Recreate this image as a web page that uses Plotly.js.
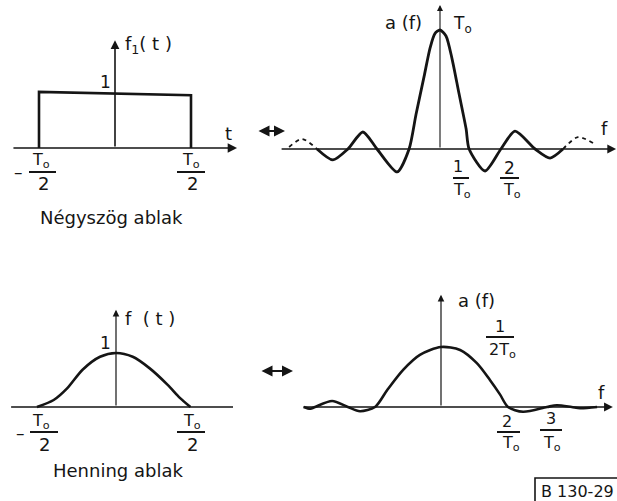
<!DOCTYPE html>
<html><head><meta charset="utf-8">
<script src="https://cdn.plot.ly/plotly-3.0.1.min.js"></script>
<style>html,body{margin:0;padding:0;background:#fff}#g{width:617px;height:501px}</style>
</head><body><div id="g"></div>
<script>
// ---- data ----
// top-left: rectangular window, t in units of T0
const rectT = [-0.5, -0.5, 0.5, 0.5];
const rectY = [0, 1.02, 0.96, 0];
// top-right: its spectrum, f in units of 1/T0, a in units of T0
const sincX = [-4.1,-3.57,-3.07,-2.57,-2.1,-1.43,-1.03,-0.8,-0.53,-0.33,-0.17,0,0.2,0.4,0.63,0.87,0.97,1.5,2.03,2.5,3.17,3.67,4.1];
const sincY = [0,-0.092,0,0.143,0,-0.193,0,0.29,0.61,0.85,0.97,1.0,0.95,0.76,0.47,0.17,0,-0.185,0,0.15,0,-0.076,0];
const sincDashLX = [-5.03,-4.6,-4.1];
const sincDashLY = [0.017,0.084,0];
const sincDashRX = [4.1,4.6,5.1];
const sincDashRY = [0,0.1,0.05];
// bottom-left: Hanning window
const hanT = [-0.52,-0.41,-0.32,-0.22,-0.105,0,0.11,0.22,0.34,0.42,0.49];
const hanY = [0,0.13,0.35,0.69,0.93,1,0.93,0.72,0.41,0.17,0];
// bottom-right: Hanning spectrum
const hsX = [-4.1,-3.9,-3.76,-3.25,-2.78,-2.42,-1.97,-1.61,-1.13,-0.63,0,0.57,1.07,1.46,1.76,2.0,2.45,3.16,3.46,3.9,4.15,4.66];
const hsY = [0,-0.03,0,0.1,0,-0.07,0,0.28,0.62,0.87,1.0,0.95,0.73,0.45,0.21,0,-0.08,0,0.03,0,-0.02,0];
// texts
const titleA = "Négyszög ablak";
const titleC = "Henning ablak";
const ylabA = "f<sub>1</sub>( t )";
const ylabC = "f  ( t )";
const ylabB = "a (f)";
const ylabD = "a (f)";
const tickNum = ["T<sub>o</sub>", "2"];
const sincTicks = ["1", "2"];
const hsTicks = ["2", "3"];
const figId = "B 130-29";

// ---- layout helpers ----
const W = 617, H = 501;
const ink = "#151515";
const FONT = "DejaVu Sans, sans-serif";
function panel(xd0, xd1, yd0, yd1, ox, sx, oy, sy) {
  return [
    {domain:[xd0/W, xd1/W], range:[(xd0-ox)/sx, (xd1-ox)/sx], visible:false, fixedrange:true},
    {domain:[1-yd1/H, 1-yd0/H], range:[(oy-yd1)/sy, (oy-yd0)/sy], visible:false, fixedrange:true}
  ];
}
const pA = panel(0, 260, 0, 250, 115, 152, 148, 55);
const pB = panel(260, 617, 0, 250, 440, 30, 149, 119);
const pC = panel(0, 260, 250, 501, 116, 152, 407, 54);
const pD = panel(260, 617, 250, 501, 441, 33.5, 407, 60);

function line(x, y, xa, ya, w, dash, sm) {
  return {x:x, y:y, xaxis:xa, yaxis:ya, mode:'lines', type:'scatter',
          line:{color:ink, width:w, shape:'spline', smoothing:sm||0.8, dash:dash||'solid'},
          hoverinfo:'skip', showlegend:false};
}
const traces = [
  {x:rectT, y:rectY, xaxis:'x', yaxis:'y', mode:'lines', type:'scatter',
   line:{color:ink, width:2.6}, hoverinfo:'skip', showlegend:false},
  line(sincX, sincY, 'x2', 'y2', 2.8, 'solid', 0.7),
  line(sincDashLX, sincDashLY, 'x2', 'y2', 1.8, '4px,4px'),
  line(sincDashRX, sincDashRY, 'x2', 'y2', 1.8, '4px,4px'),
  line(hanT, hanY, 'x3', 'y3', 2.6),
  line(hsX, hsY, 'x4', 'y4', 2.6)
];

function axArrow(xr, yr, x0, y0, x1, y1, w, head) {
  return {xref:xr, yref:yr, axref:xr, ayref:yr, x:x1, y:y1, ax:x0, ay:y0,
          text:'', showarrow:true, arrowhead: head===undefined?2:head, arrowsize:1.1,
          arrowwidth:w, arrowcolor:ink, standoff:0, startstandoff:0};
}
function txt(s, x, y, size) {
  return {xref:'paper', yref:'paper', x:x/W, y:1-y/H, text:s, showarrow:false,
          xanchor:'center', yanchor:'middle', font:{family:FONT, size:size||17, color:ink}};
}
const ann = [
  // axes
  axArrow('x','y', -0.678, 0, 0.803, 0, 1.7),
  axArrow('x','y', 0, 0, 0, 1.96, 1.6),
  axArrow('x2','y2', -5.33, 0, 5.87, 0, 1.6),
  axArrow('x2','y2', 0, 0, 0, 1.21, 1.1),
  axArrow('x3','y3', -0.70, 0, 0.77, 0, 1.6, 0),
  axArrow('x3','y3', 0, 0, 0, 1.8, 1.2),
  axArrow('x4','y4', -4.15, 0, 5.13, 0, 1.6),
  axArrow('x4','y4', 0, 0, 0, 1.87, 1.2),
  // double arrows between panels
  {xref:'paper', yref:'paper', x:285/W, y:1-131/H, ax:-28, ay:0, text:'', showarrow:true,
   arrowhead:2, startarrowhead:2, arrowside:'end+start', arrowsize:1, arrowwidth:2.2, arrowcolor:ink},
  {xref:'paper', yref:'paper', x:293/W, y:1-371/H, ax:-33, ay:0, text:'', showarrow:true,
   arrowhead:2, startarrowhead:2, arrowside:'end+start', arrowsize:1, arrowwidth:2.2, arrowcolor:ink},
  // panel A texts
  txt(ylabA, 148, 45, 18),
  txt("1", 105, 82),
  txt("t", 228, 133, 18),
  txt("–", 18, 172),
  txt(tickNum[0], 41, 160, 16), txt(tickNum[1], 43, 183, 18),
  txt(tickNum[0], 191, 160, 16), txt(tickNum[1], 192, 183, 18),
  txt(titleA, 111, 217, 18),
  // panel B texts
  txt(ylabB, 403, 22, 18),
  txt("T<sub>o</sub>", 463, 24, 17),
  txt(sincTicks[0], 458, 166, 16), txt("T<sub>o</sub>", 462, 190, 16),
  txt(sincTicks[1], 509, 168, 17), txt("T<sub>o</sub>", 512, 190, 16),
  txt("f", 604, 129, 18),
  // panel C texts
  txt(ylabC, 150, 318, 18),
  txt("1", 105, 343),
  txt("–", 21, 433),
  txt(tickNum[0], 41, 421, 16), txt(tickNum[1], 45, 444, 18),
  txt(tickNum[0], 192, 421, 16), txt(tickNum[1], 192, 444, 18),
  txt(titleC, 118, 470, 18),
  // panel D texts
  txt(ylabD, 476, 300, 18),
  txt("1", 500, 326, 16), txt("2T<sub>o</sub>", 502, 350, 16),
  txt("f", 601, 392, 18),
  txt(hsTicks[0], 507, 421, 16), txt("T<sub>o</sub>", 511, 443, 16),
  txt(hsTicks[1], 551, 418, 16), txt("T<sub>o</sub>", 552, 443, 16),
  // figure id
  {xref:'paper', yref:'paper', x:539/W, y:1-491/H, text:figId, showarrow:false,
   xanchor:'left', yanchor:'middle', font:{family:FONT, size:16, color:ink}}
];
function bar(x0, x1, y, w) {
  return {type:'line', xref:'paper', yref:'paper', x0:x0/W, x1:x1/W, y0:1-y/H, y1:1-y/H,
          line:{color:ink, width:w||2}};
}
const shapes = [
  bar(29, 56, 172), bar(177, 205, 172),
  bar(453, 469, 178), bar(500, 519, 178),
  bar(30, 58, 432), bar(177, 205, 432),
  bar(486, 514, 337), bar(497, 520, 432), bar(540, 562, 430),
  {type:'rect', xref:'paper', yref:'paper', x0:535/W, x1:1.05, y0:1-478/H, y1:-0.05,
   line:{color:ink, width:1.6}, fillcolor:'rgba(0,0,0,0)'}
];

const layout = {
  width:W, height:H, margin:{l:0, r:0, t:0, b:0},
  paper_bgcolor:'#fff', plot_bgcolor:'rgba(0,0,0,0)', showlegend:false,
  xaxis:pA[0], yaxis:pA[1],
  xaxis2:Object.assign({anchor:'y2'}, pB[0]), yaxis2:Object.assign({anchor:'x2'}, pB[1]),
  xaxis3:Object.assign({anchor:'y3'}, pC[0]), yaxis3:Object.assign({anchor:'x3'}, pC[1]),
  xaxis4:Object.assign({anchor:'y4'}, pD[0]), yaxis4:Object.assign({anchor:'x4'}, pD[1]),
  annotations:ann, shapes:shapes
};
Plotly.newPlot('g', traces, layout, {staticPlot:true, displayModeBar:false});
</script></body></html>
